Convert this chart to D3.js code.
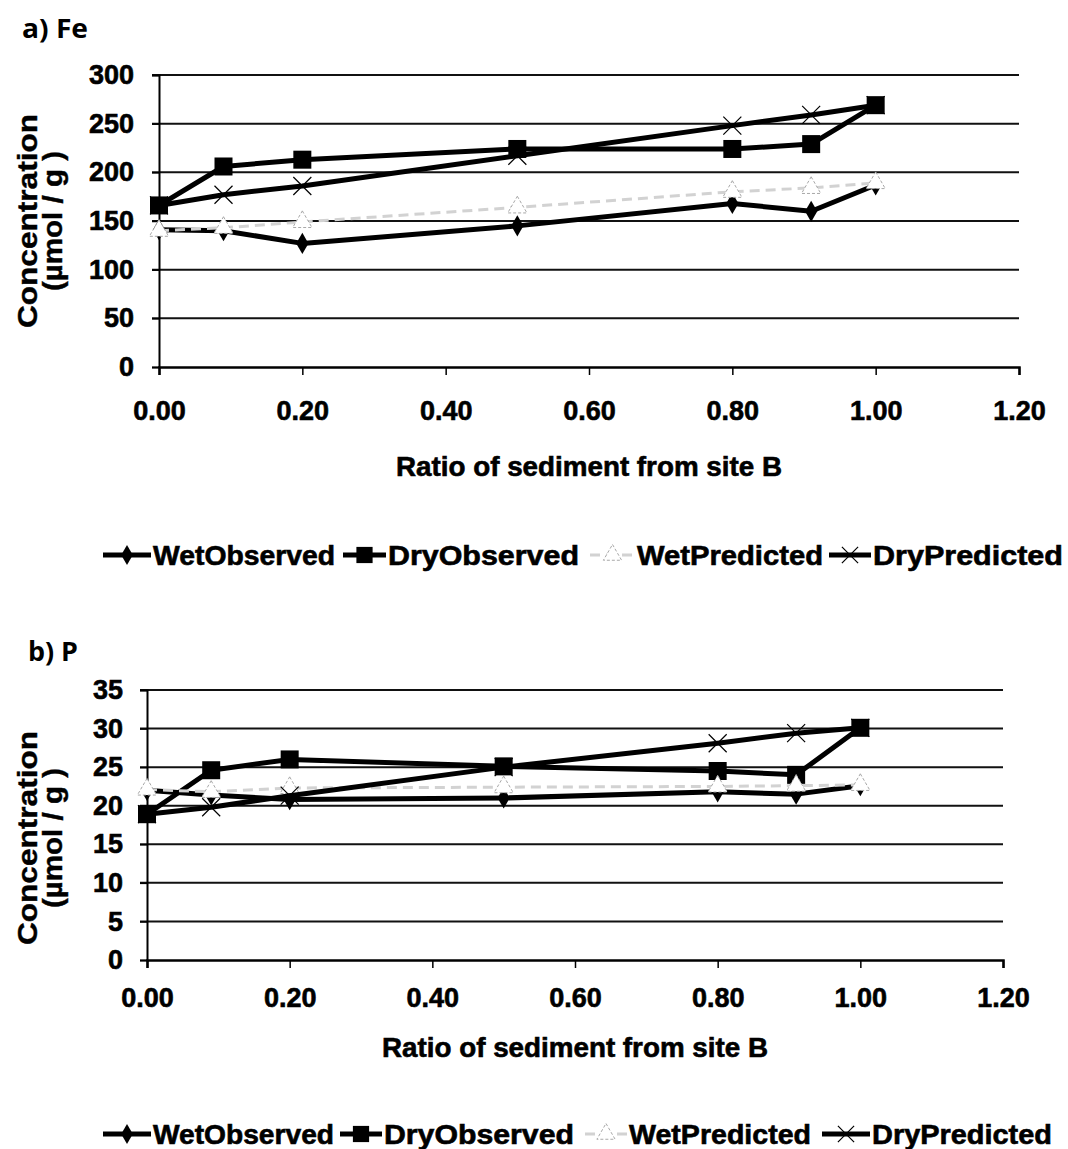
<!DOCTYPE html>
<html>
<head>
<meta charset="utf-8">
<script src="https://cdn.jsdelivr.net/npm/d3@7/dist/d3.min.js"></script>
<style>
  html, body { margin: 0; padding: 0; background: #fff; }
  svg { display: block; }
  .narrow { font-family: "Liberation Sans", Arial, sans-serif; font-weight: bold; stroke: #000; stroke-width: 0.6px; }
  .wide { font-family: "Liberation Sans", Arial, sans-serif; font-weight: bold; stroke: #000; stroke-width: 0.4px; }
  .panel { font-family: "Open Sans", "Noto Sans", sans-serif; font-weight: bold; }
</style>
</head>
<body>
<svg id="fig" width="1068" height="1149"></svg>
<script>
// Sediment mixing ratio (fraction from site B)
const ratios = [0.00, 0.09, 0.20, 0.50, 0.80, 0.91, 1.00];
const seriesNames = ["WetObserved", "DryObserved", "WetPredicted", "DryPredicted"];
const xTicks = [0, 0.2, 0.4, 0.6, 0.8, 1.0, 1.2];

// a) Fe, µmol/g
const feWetObserved  = [141, 140, 127, 145, 168, 160, 187];
const feDryObserved  = [166, 206, 213, 224, 224, 229, 269];
const feWetPredicted = [140, 143, 149, 164, 180, 184, 189];
const feDryPredicted = [166, 177, 186, 217, 248, 259, 269];
const feTicks = [0, 50, 100, 150, 200, 250, 300];

// b) P, µmol/g
const pWetObserved  = [22.0, 21.4, 20.8, 21.0, 21.8, 21.5, 22.6];
const pDryObserved  = [18.9, 24.6, 26.0, 25.1, 24.5, 24.0, 30.1];
const pWetPredicted = [22.1, 21.8, 22.3, 22.4, 22.5, 22.6, 22.7];
const pDryPredicted = [18.9, 19.8, 21.3, 25.0, 28.1, 29.4, 30.1];
const pTicks = [0, 5, 10, 15, 20, 25, 30, 35];

const svg = d3.select("#fig");

const styles = {
  WetObserved:  { stroke: "#000", width: 5,   dash: null,  marker: "diamond" },
  DryObserved:  { stroke: "#000", width: 5,   dash: null,  marker: "square" },
  WetPredicted: { stroke: "#d2d2d2", width: 3, dash: "10,6", marker: "triangle" },
  DryPredicted: { stroke: "#000", width: 5,   dash: null,  marker: "cross" }
};

function drawMarker(g, kind, x, y, scale) {
  const s = scale || 1;
  if (kind === "diamond") {
    g.append("path").attr("d", d3.symbol(d3.symbolDiamond, 130 * s)())
      .attr("transform", `translate(${x},${y})`).attr("fill", "#000");
  } else if (kind === "square") {
    const h = 9 * s;
    g.append("rect").attr("x", x - h).attr("y", y - h).attr("width", 2 * h).attr("height", 2 * h)
      .attr("fill", "#000");
  } else if (kind === "triangle") {
    g.append("path").attr("d", d3.symbol(d3.symbolTriangle, 160 * s)())
      .attr("transform", `translate(${x},${y})`)
      .attr("fill", "#fff").attr("stroke", "#a8a8a8").attr("stroke-width", 1).attr("stroke-dasharray", "3,2");
  } else if (kind === "cross") {
    const h = 9 * s;
    g.append("path").attr("d", `M${x - h},${y - h}L${x + h},${y + h}M${x - h},${y + h}L${x + h},${y - h}`)
      .attr("stroke", "#000").attr("stroke-width", 1.2).attr("fill", "none");
  }
}

function drawChart(cfg) {
  const g = svg.append("g");
  const x = d3.scaleLinear().domain([0, 1.2]).range([cfg.left, cfg.right]);
  const y = d3.scaleLinear().domain([0, cfg.yMax]).range([cfg.bottom, cfg.top]);

  // panel label
  g.append("text").attr("class", "panel").attr("x", cfg.labelX).attr("y", cfg.labelY)
    .attr("font-size", 26).attr("textLength", cfg.labelW).attr("lengthAdjust", "spacingAndGlyphs")
    .text(cfg.label);

  // horizontal gridlines
  g.append("g").selectAll("line").data(cfg.yTicks.filter(d => d > 0)).join("line")
    .attr("x1", cfg.left - 7).attr("x2", cfg.right)
    .attr("y1", d => y(d)).attr("y2", d => y(d))
    .attr("stroke", "#111").attr("stroke-width", 2);

  // y axis
  const yAxis = g.append("g").attr("transform", `translate(${cfg.left},0)`)
    .call(d3.axisLeft(y).tickValues(cfg.yTicks).tickSize(7).tickPadding(cfg.yPad).tickFormat(d3.format("d")));
  yAxis.select(".domain").attr("stroke", "#000").attr("stroke-width", 2);
  yAxis.selectAll(".tick line").attr("stroke", "#000").attr("stroke-width", 1.5);
  yAxis.selectAll("text").attr("class", "narrow").attr("font-size", 27).attr("fill", "#000");

  // x axis
  const xAxis = g.append("g").attr("transform", `translate(0,${cfg.bottom})`)
    .call(d3.axisBottom(x).tickValues(xTicks).tickSize(8).tickPadding(cfg.xPad).tickFormat(d3.format(".2f")));
  xAxis.select(".domain").attr("stroke", "#000").attr("stroke-width", 2.5);
  xAxis.selectAll(".tick line").attr("stroke", "#000").attr("stroke-width", 1.5);
  xAxis.selectAll("text").attr("class", "narrow").attr("font-size", 27).attr("fill", "#000");

  // axis titles
  const ty = g.append("text").attr("class", "wide").attr("font-size", 27).attr("text-anchor", "middle")
    .attr("transform", `translate(${cfg.yTitleX},${cfg.yTitleY}) rotate(-90)`);
  ty.append("tspan").attr("x", 0).attr("dy", 0).attr("textLength", 214).attr("lengthAdjust", "spacingAndGlyphs")
    .text("Concentration");
  ty.append("tspan").attr("x", 0).attr("dy", 25).attr("textLength", 140).attr("lengthAdjust", "spacingAndGlyphs")
    .text("(µmol / g )");

  g.append("text").attr("class", "narrow").attr("font-size", 27).attr("text-anchor", "middle")
    .attr("x", cfg.xTitleX).attr("y", cfg.xTitleY)
    .attr("textLength", 386).attr("lengthAdjust", "spacingAndGlyphs")
    .text("Ratio of sediment from site B");

  // series lines and markers
  const line = d3.line().x((d, i) => x(ratios[i])).y(d => y(d));
  seriesNames.forEach(name => {
    const st = styles[name];
    const vals = cfg.data[name];
    g.append("path").datum(vals).attr("d", line)
      .attr("fill", "none").attr("stroke", st.stroke).attr("stroke-width", st.width)
      .attr("stroke-dasharray", st.dash).attr("stroke-linejoin", "round");
    const mg = g.append("g");
    vals.forEach((v, i) => drawMarker(mg, st.marker, x(ratios[i]), y(v)));
  });

  // legend
  const lg = g.append("g");
  cfg.legend.forEach((it, i) => {
    const name = seriesNames[i];
    const st = styles[name];
    const ly = cfg.legendY;
    lg.append("line").attr("x1", it.x0).attr("x2", it.x1).attr("y1", ly).attr("y2", ly)
      .attr("stroke", st.stroke).attr("stroke-width", st.width).attr("stroke-dasharray", st.dash);
    drawMarker(lg, st.marker, (it.x0 + it.x1) / 2, ly, 0.9);
    lg.append("text").attr("class", "narrow").attr("font-size", 27)
      .attr("x", it.x1 + 2).attr("y", ly + 10)
      .attr("textLength", it.w).attr("lengthAdjust", "spacingAndGlyphs").text(name);
  });
}

drawChart({
  label: "a) Fe", labelX: 22, labelY: 38, labelW: 66,
  left: 159, right: 1019, top: 75, bottom: 367, yMax: 300, yTicks: feTicks,
  yPad: 18, xPad: 26,
  yTitleX: 37, yTitleY: 221, xTitleX: 589, xTitleY: 476,
  legendY: 555,
  legend: [{ x0: 103, x1: 151, w: 182 }, { x0: 343, x1: 386, w: 191 },
           { x0: 590, x1: 635, w: 186 }, { x0: 829, x1: 871, w: 190 }],
  data: { WetObserved: feWetObserved, DryObserved: feDryObserved, WetPredicted: feWetPredicted, DryPredicted: feDryPredicted }
});

drawChart({
  label: "b) P", labelX: 28, labelY: 661, labelW: 50,
  left: 147, right: 1003, top: 690, bottom: 960, yMax: 35, yTicks: pTicks,
  yPad: 17, xPad: 20,
  yTitleX: 37, yTitleY: 838, xTitleX: 575, xTitleY: 1057,
  legendY: 1134,
  legend: [{ x0: 103, x1: 151, w: 181 }, { x0: 340, x1: 382, w: 190 },
           { x0: 585, x1: 627, w: 182 }, { x0: 822, x1: 870, w: 180 }],
  data: { WetObserved: pWetObserved, DryObserved: pDryObserved, WetPredicted: pWetPredicted, DryPredicted: pDryPredicted }
});
</script>
</body>
</html>
